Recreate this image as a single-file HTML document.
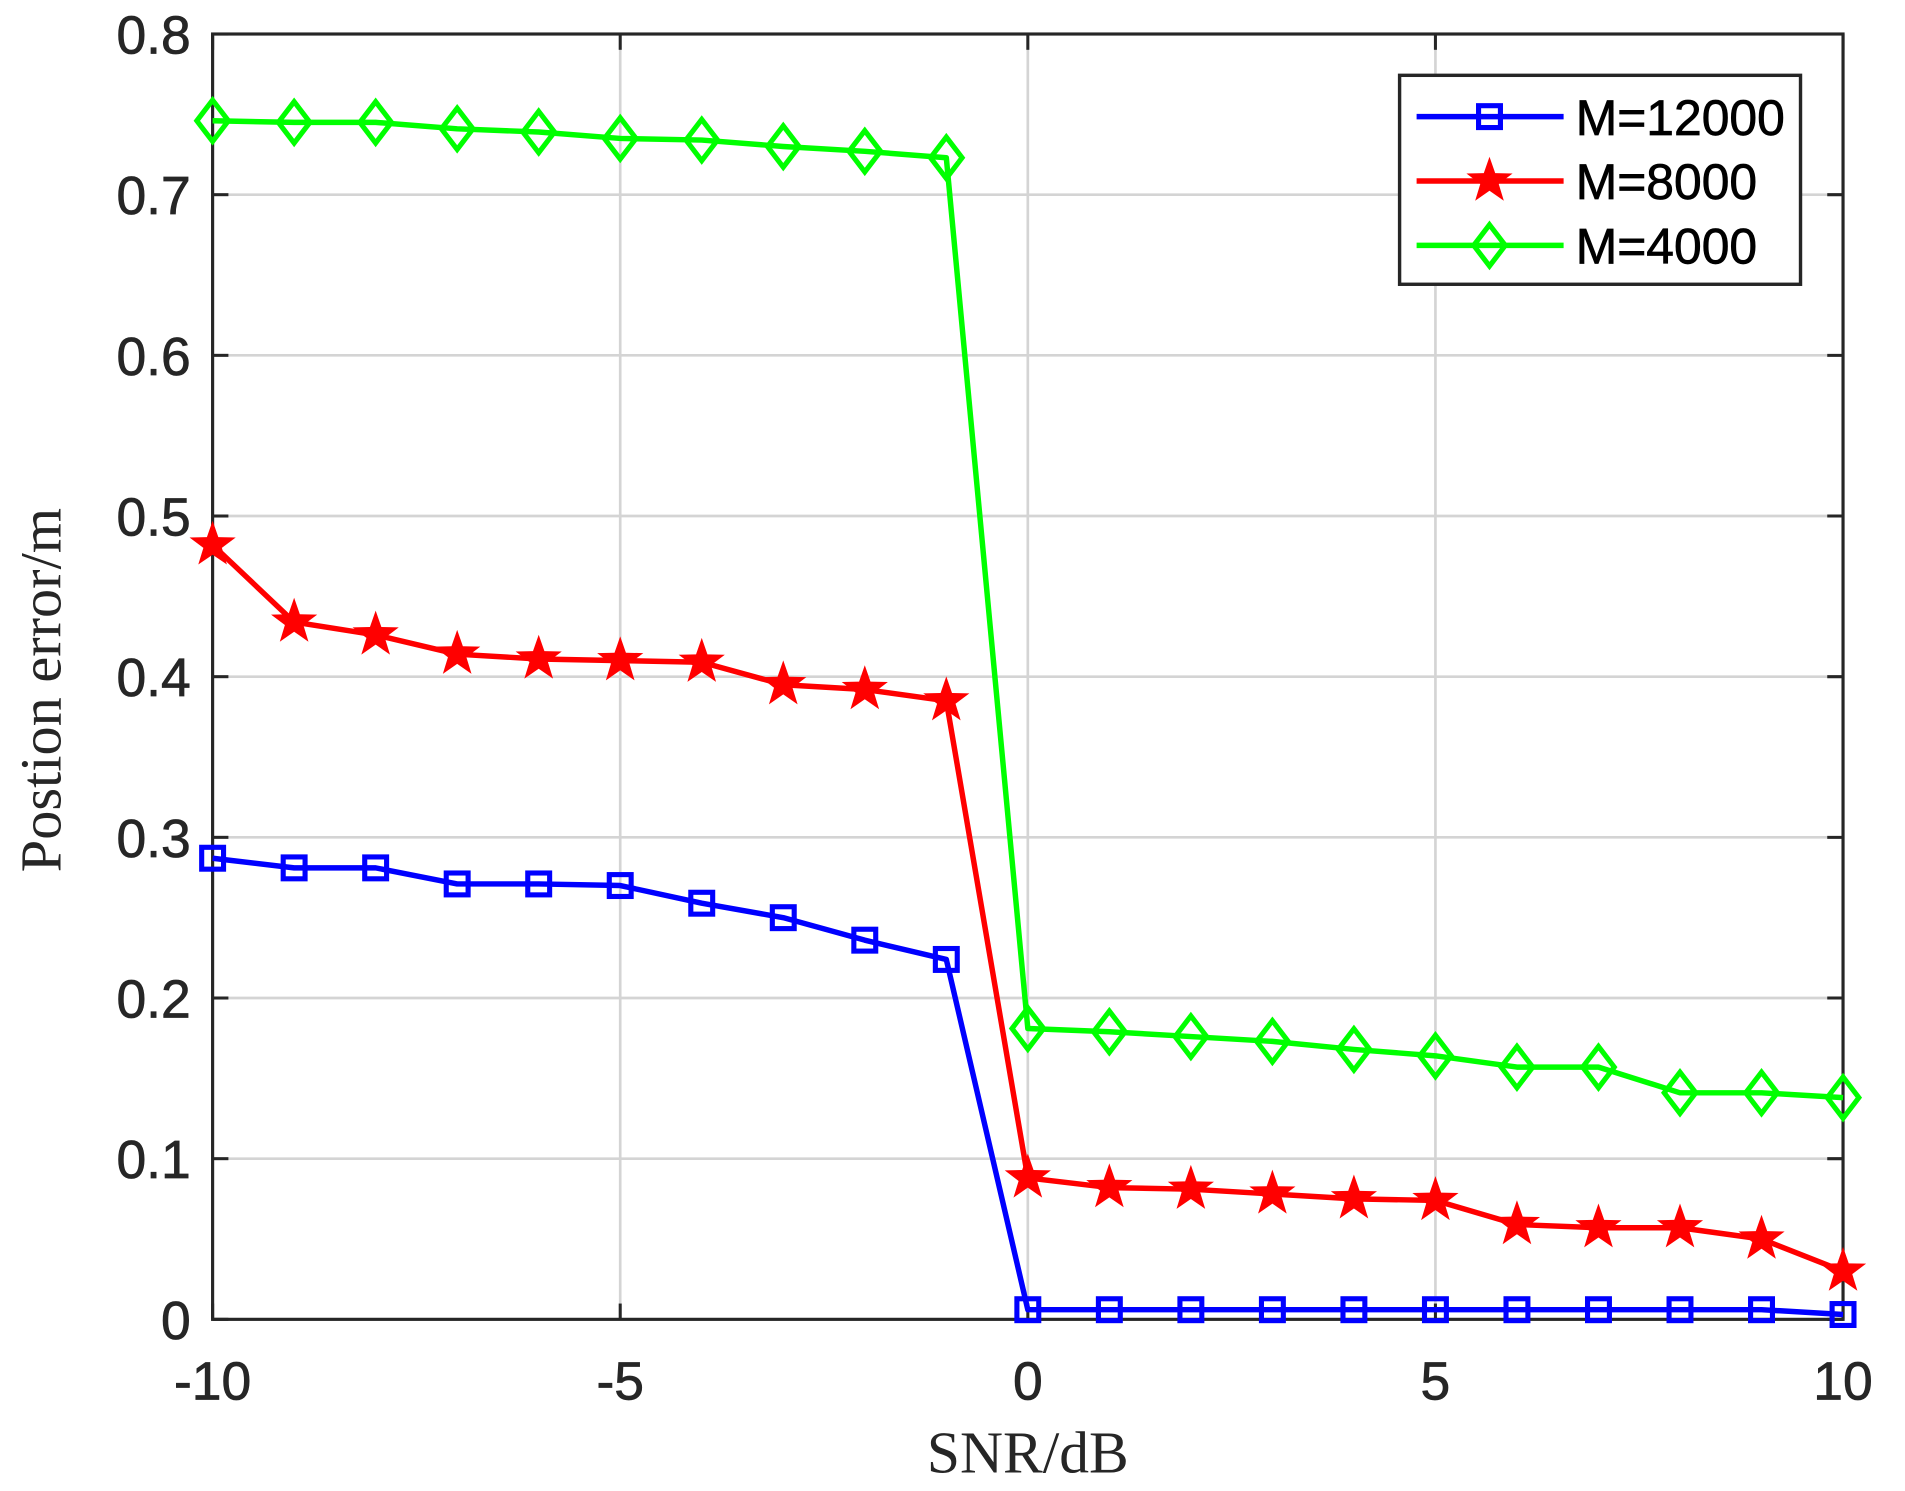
<!DOCTYPE html>
<html><head><meta charset="utf-8"><style>html,body{margin:0;padding:0;background:#fff}svg{display:block}</style></head>
<body>
<svg id="s" width="1905" height="1491" viewBox="0 0 1568 1227.3" xmlns="http://www.w3.org/2000/svg" preserveAspectRatio="none">
<rect width="1568" height="1228" fill="#fff"/>
<g id="grid" stroke="#d4d4d4" stroke-width="2.2"></g>
<g id="ticks" stroke="#262626" stroke-width="2.5"></g>
<rect x="175" y="28" width="1342" height="1058" fill="none" stroke="#262626" stroke-width="2.6"/>
<g id="labels" font-family="Liberation Sans, Arial, sans-serif" font-size="44" fill="#262626" stroke="#262626" stroke-width="0.6"></g>
<text x="846" y="1212" text-anchor="middle" font-family="Liberation Serif, serif" font-size="49" fill="#262626">SNR/dB</text>
<text transform="translate(50,568) rotate(-90)" text-anchor="middle" font-family="Liberation Serif, serif" font-size="48" fill="#262626">Postion error/m</text>
<g id="series"></g>
<g>
<rect x="1152" y="62" width="330" height="172" fill="#fff" stroke="#262626" stroke-width="2.8"/>
<g id="leg"></g>
<g font-family="Liberation Sans, Arial, sans-serif" font-size="41" fill="#000" stroke="#000" stroke-width="0.6">
<text x="1297" y="111">M=12000</text>
<text x="1297" y="164">M=8000</text>
<text x="1297" y="217">M=4000</text>
</g>
</g>
</svg>
<script>
const NS="http://www.w3.org/2000/svg";
const X=v=>175+(v+10)*67.1, Y=v=>1086-v*1322.5;
function el(p,t,a){const e=document.createElementNS(NS,t);for(const k in a)e.setAttribute(k,a[k]);p.appendChild(e);return e;}
const g=document.getElementById('grid'),tk=document.getElementById('ticks'),lb=document.getElementById('labels');
for(let v=-10;v<=10;v+=5){const x=X(v);if(v>-10&&v<10)el(g,'line',{x1:x,y1:28,x2:x,y2:1086});
el(tk,'line',{x1:x,y1:1086,x2:x,y2:1073});el(tk,'line',{x1:x,y1:28,x2:x,y2:41});
const t=el(lb,'text',{x:x,y:1152,'text-anchor':'middle'});t.textContent=v;}
for(let i=0;i<=8;i++){const v=i/10,y=Y(v);if(i>0&&i<8)el(g,'line',{x1:175,y1:y,x2:1517,y2:y});
el(tk,'line',{x1:175,y1:y,x2:188,y2:y});el(tk,'line',{x1:1517,y1:y,x2:1504,y2:y});
const t=el(lb,'text',{x:157,y:y+16,'text-anchor':'end'});t.textContent=i==0?'0':v.toFixed(1);}
const xs=[];for(let v=-10;v<=10;v++)xs.push(v);
const G=[0.746,0.745,0.745,0.741,0.739,0.735,0.734,0.730,0.727,0.723,0.181,0.179,0.176,0.173,0.168,0.164,0.157,0.157,0.141,0.141,0.138];
const R=[0.482,0.434,0.426,0.414,0.411,0.410,0.409,0.395,0.392,0.385,0.088,0.082,0.081,0.078,0.075,0.074,0.059,0.057,0.057,0.050,0.030];
const B=[0.287,0.281,0.281,0.271,0.271,0.270,0.259,0.250,0.236,0.224,0.006,0.006,0.006,0.006,0.006,0.006,0.006,0.006,0.006,0.006,0.003];
function star(cx,cy,r){let p=[];for(let i=0;i<10;i++){const a=-Math.PI/2+i*Math.PI/5,rr=i%2?r*0.4:r;p.push((cx+rr*Math.cos(a)).toFixed(1)+','+(cy+rr*Math.sin(a)).toFixed(1));}return p.join(' ');}
function marker(p,type,x,y,c){
if(type=='s')el(p,'rect',{x:x-9,y:y-9,width:18,height:18,fill:'none',stroke:c,'stroke-width':4.2});
else if(type=='d')el(p,'polygon',{points:`${x},${y-17} ${x+13},${y} ${x},${y+17} ${x-13},${y}`,fill:'none',stroke:c,'stroke-width':4.2});
else el(p,'polygon',{points:star(x,y,20),fill:c});}
const S=document.getElementById('series');
[[B,'#0000ff','s'],[R,'#ff0000','p'],[G,'#00ff00','d']].forEach(([d,c,m])=>{
el(S,'polyline',{points:d.map((v,i)=>X(xs[i])+','+Y(v)).join(' '),fill:'none',stroke:c,'stroke-width':4.5,'stroke-linejoin':'round'});
d.forEach((v,i)=>marker(S,m,X(xs[i]),Y(v),c));});
const L=document.getElementById('leg');
[[96,'#0000ff','s'],[149,'#ff0000','p'],[202,'#00ff00','d']].forEach(([y,c,m])=>{
el(L,'line',{x1:1166,y1:y,x2:1287,y2:y,stroke:c,'stroke-width':4.5});marker(L,m,1226,y,c);});
</script>
</body></html>
